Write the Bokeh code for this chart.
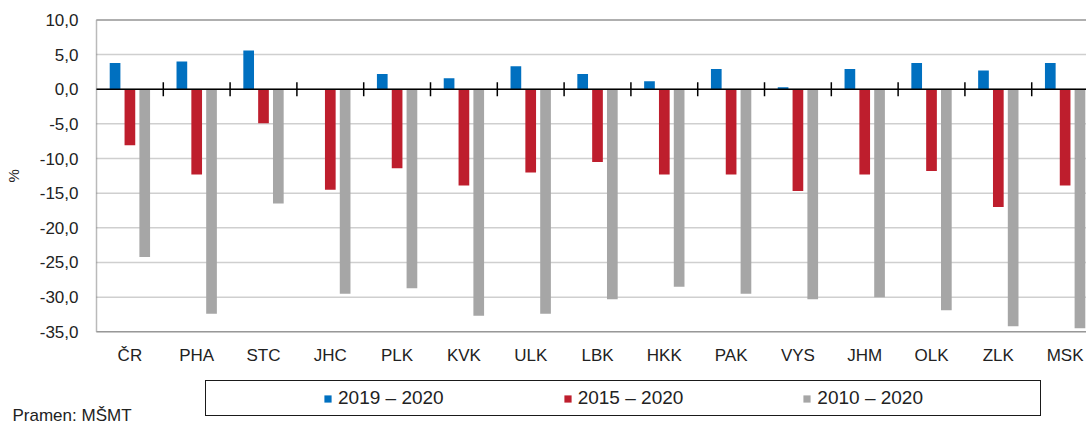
import numpy as np
from bokeh.plotting import figure
from bokeh.models import (Range1d, LinearAxis, FixedTicker, Legend, LegendItem,
                          BoxAnnotation, Label)
from bokeh.transform import dodge
from bokeh.embed import file_html
from bokeh.resources import INLINE

# ---------------- data ----------------
categories = ["ČR", "PHA", "STC", "JHC", "PLK", "KVK", "ULK", "LBK", "HKK",
              "PAK", "VYS", "JHM", "OLK", "ZLK", "MSK"]
v_2019_2020 = [3.8, 4.0, 5.6, 0.0, 2.2, 1.6, 3.3, 2.2, 1.15, 2.9, 0.3, 2.9, 3.8, 2.7, 3.8]
v_2015_2020 = [-8.1, -12.3, -4.9, -14.5, -11.4, -13.9, -12.0, -10.5, -12.3,
               -12.3, -14.7, -12.3, -11.8, -17.0, -13.9]
v_2010_2020 = [-24.2, -32.4, -16.5, -29.5, -28.7, -32.7, -32.4, -30.3, -28.5,
               -29.5, -30.3, -30.0, -31.9, -34.2, -34.5]
series_labels = ["2019 – 2020", "2015 – 2020", "2010 – 2020"]
colors = ["#0070C0", "#BE1E2D", "#A6A6A6"]
y_ticks = [10, 5, 0, -5, -10, -15, -20, -25, -30, -35]
source_text = "Pramen: MŠMT"
axis_title = "%"

FONT = "Liberation Sans"
TXT = "#222222"
BORDER = "#1A1A1A"

n = len(categories)
idx = np.arange(n)
centers = [float(c) for c in idx + 0.5]
bounds = [float(b) for b in idx[1:]]
y_top, y_bottom = max(y_ticks), min(y_ticks)

data = dict(x=centers, a=v_2019_2020, b=v_2015_2020, c=v_2010_2020)

# the frame covers the whole canvas; the plot area is the box 0..n x -35..10
p = figure(width=1086, height=423, x_range=Range1d(-1.437, 14.82), y_range=Range1d(-48.23, 12.8),
           min_border=0, min_border_left=0, min_border_right=0, min_border_top=0,
           min_border_bottom=0, toolbar_location=None, output_backend="svg",
           x_axis_location=None, y_axis_location=None)
p.outline_line_color = None
p.background_fill_color = "white"
p.border_fill_color = "white"
p.grid.visible = False

# horizontal gridlines inside the plot area
p.segment(x0=[0] * len(y_ticks), x1=[n] * len(y_ticks), y0=y_ticks, y1=y_ticks,
          line_color="#CFCFCF", line_width=1.5)

# bars
bw = 0.16
off = 0.222
bar_renderers = []
for key, d, col in zip(["a", "b", "c"], [-off, 0.0, off], colors):
    r = p.vbar(x=dodge("x", d), top=key, bottom=0, width=bw, source=data,
               fill_color=col, line_color=None)
    bar_renderers.append(r)

# zero line with category-boundary tick marks
p.segment(x0=[0], x1=[n], y0=[0], y1=[0], line_color="black", line_width=1.5)
p.scatter(x=bounds, y=[0] * len(bounds), marker="dash", angle=np.pi / 2, size=14,
          line_color="black", line_width=1.5)

# plot-area border
p.add_layout(BoxAnnotation(left=0, right=n, top=y_top, bottom=y_bottom,
                           fill_color=None, line_color=BORDER, line_width=1.5))

# value axis (drawn at x = 0)
yax = LinearAxis(fixed_location=0, ticker=FixedTicker(ticks=y_ticks),
                 major_label_overrides={float(v): f"{v:.1f}".replace(".", ",") for v in y_ticks})
yax.major_tick_out = 0
yax.major_tick_in = 0
yax.minor_tick_out = 0
yax.minor_tick_in = 0
yax.major_label_standoff = 18
yax.axis_line_color = None
yax.major_label_text_font = FONT
yax.major_label_text_font_size = "17px"
yax.major_label_text_color = TXT
p.add_layout(yax, "left")

# category axis (drawn at y = -35)
xax = LinearAxis(fixed_location=y_bottom, ticker=FixedTicker(ticks=centers),
                 major_label_overrides={c: lab for c, lab in zip(centers, categories)})
xax.major_tick_out = 0
xax.major_tick_in = 0
xax.minor_tick_out = 0
xax.minor_tick_in = 0
xax.major_label_standoff = 14
xax.axis_line_color = None
xax.major_label_text_font = FONT
xax.major_label_text_font_size = "17px"
xax.major_label_text_color = TXT
p.add_layout(xax, "below")

# axis title "%"
p.add_layout(Label(x=13, x_units="screen", y=(y_top + y_bottom) / 2, y_units="data",
                   text=axis_title, angle=np.pi / 2, text_align="center",
                   text_baseline="middle", text_font=FONT, text_font_size="15px",
                   text_color=TXT))

# legend (spacer items centre the entries inside a wide box)
items = [LegendItem(label="", renderers=[])]
for lab, r in zip(series_labels, bar_renderers):
    items.append(LegendItem(label=lab, renderers=[r]))
    items.append(LegendItem(label="", renderers=[]))
leg = Legend(items=items, orientation="horizontal", location=(205, 7),
             glyph_width=9, glyph_height=9, label_standoff=6, spacing=8,
             label_width=88, label_height=22, padding=6, margin=0,
             border_line_color=BORDER, border_line_width=1.5, border_line_alpha=1,
             background_fill_color="white", background_fill_alpha=1,
             label_text_font=FONT, label_text_font_size="19px", label_text_color=TXT)
p.add_layout(leg, "center")

# source note
p.add_layout(Label(x=12, y=8, x_units="screen", y_units="screen", text=source_text,
                   text_font=FONT, text_font_size="17px", text_color=TXT,
                   text_align="left", text_baseline="alphabetic"))

open("out.html", "w").write(file_html(p, INLINE))
